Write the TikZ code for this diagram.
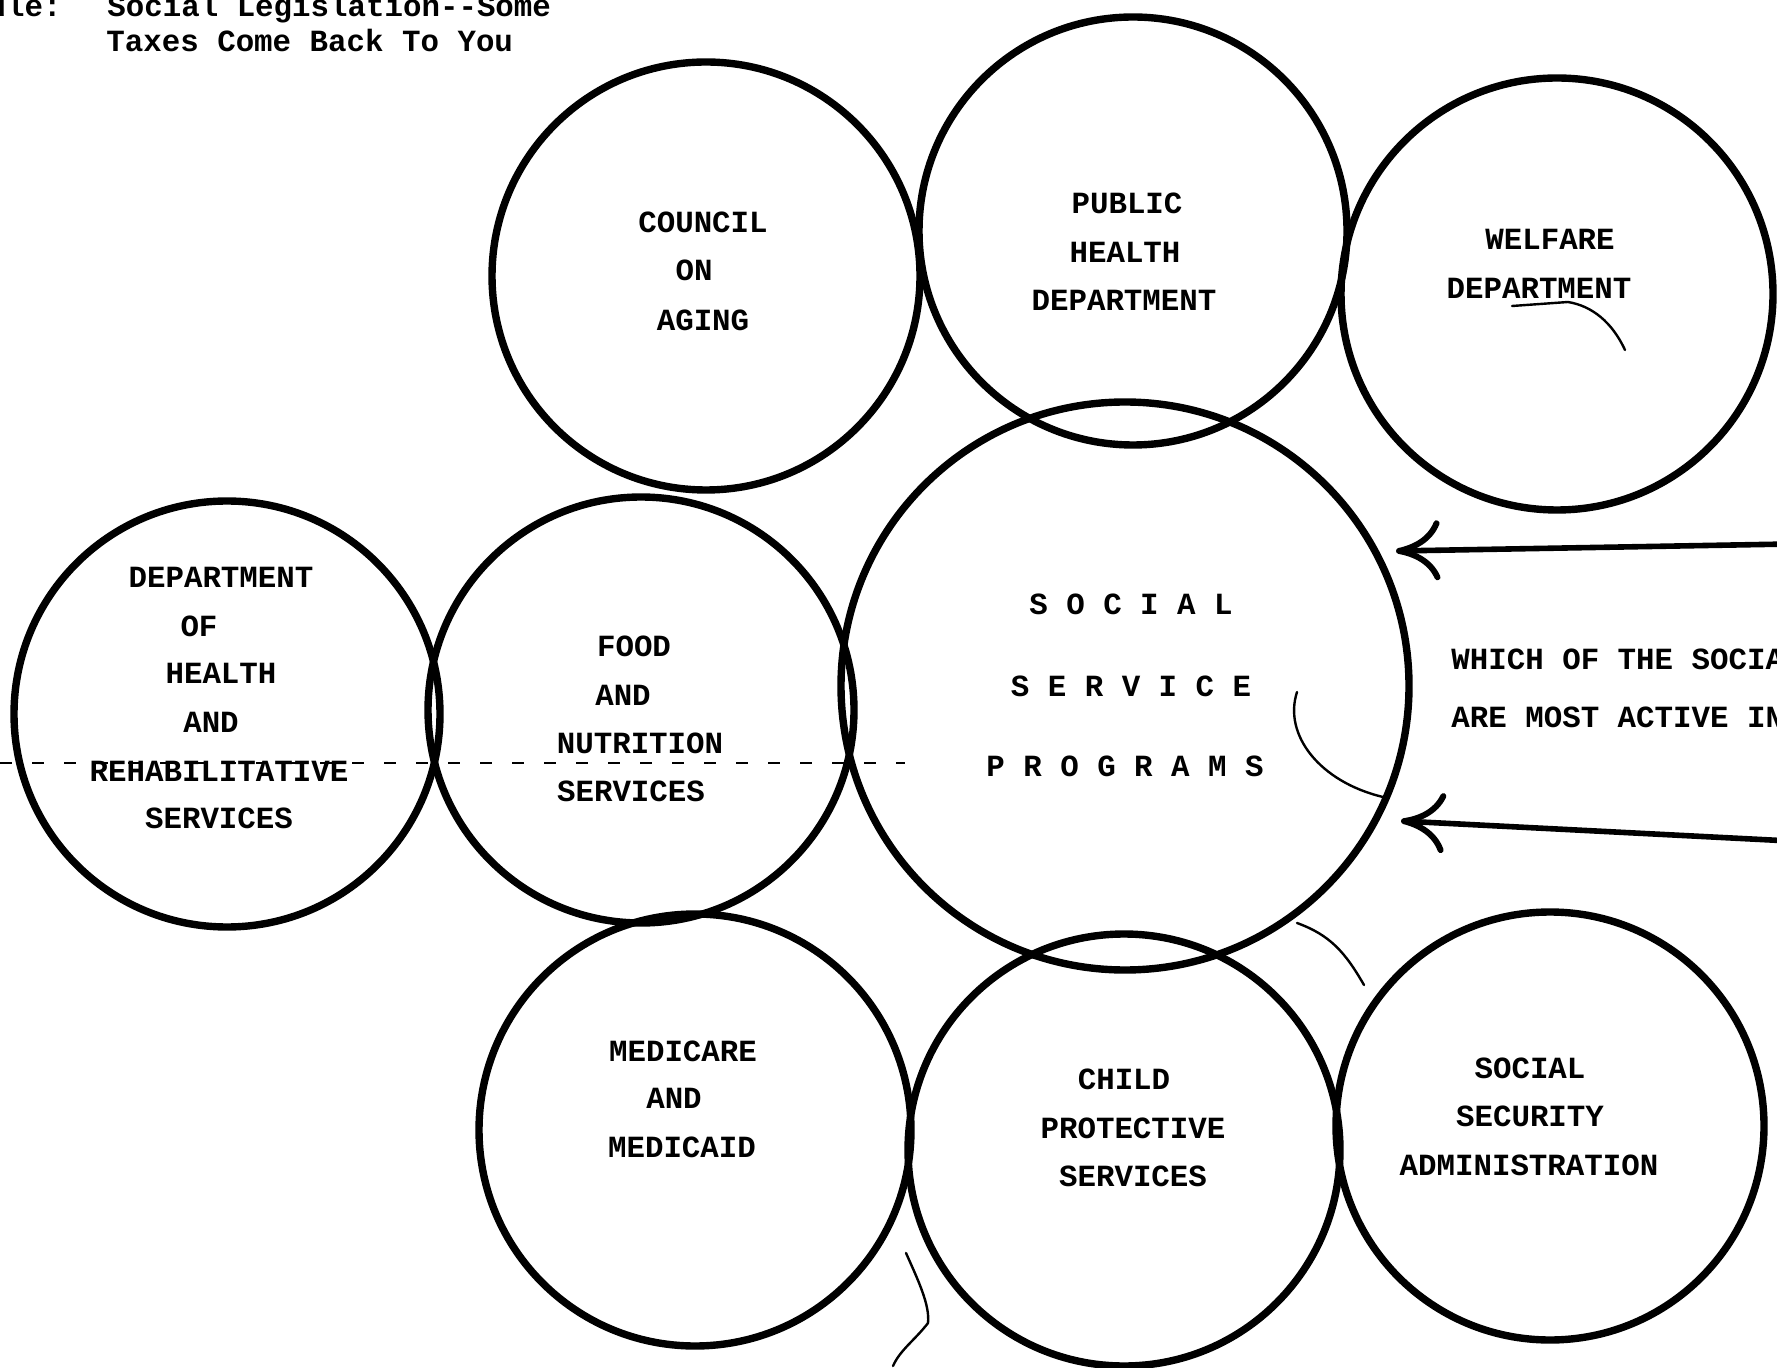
\documentclass[tikz,border=0pt]{standalone}
\usepackage{fontspec}
\setmonofont{Liberation Mono}
\usetikzlibrary{arrows.meta}
\begin{document}
\begin{tikzpicture}[x=0.5pt,y=-0.5pt,
  bub/.style={draw, circle, line width=3.7pt, inner sep=0pt},
  txt/.style={font=\ttfamily\bfseries\fontsize{15.4}{18}\selectfont, inner sep=0pt, anchor=center},
  arr/.style={line width=2.8pt, -{Computer Modern Rightarrow[length=22pt,width=30pt,line width=3pt]}},
  stray/.style={line width=1.2pt, line cap=round}]
\useasboundingbox (0,0) rectangle (1777,1368);
\fill[white] (0,0) rectangle (1777,1368);

% title
\node[txt, anchor=base east] (tul) at (62,17) {ule:};
\node[txt, anchor=base west] (t1) at (107,17) {Social Legislation--Some};
\node[txt, anchor=base west] (t2) at (106,52) {Taxes Come Back To You};

% dashed line
\draw[line width=0.6pt, dash pattern=on 6pt off 10pt] (0,763) -- (905,763);

% circles
\node[bub, minimum size=214pt] (council) at (706,276) {};
\node[bub, minimum size=214pt] (public) at (1133,231) {};
\node[bub, minimum size=216pt] (welfare) at (1557,294) {};
\node[bub, minimum size=213pt] (dhrs) at (227,714) {};
\node[bub, minimum size=213pt] (food) at (641,710) {};
\node[bub, minimum size=216pt] (medicare) at (695,1130) {};
\node[bub, minimum size=216pt] (child) at (1124,1150) {};
\node[bub, minimum size=214pt] (socsec) at (1550,1126) {};
\node[bub, minimum size=284pt] (social) at (1125,686) {};

% texts
\node[txt] (c1) at (703,222) {COUNCIL};
\node[txt] (c2) at (694,270) {ON};
\node[txt] (c3) at (703,320) {AGING};

\node[txt] (p1) at (1127,203) {PUBLIC};
\node[txt] (p2) at (1125,252) {HEALTH};
\node[txt] (p3) at (1124,300) {DEPARTMENT};

\node[txt] (w1) at (1550,239) {WELFARE};
\node[txt] (w2) at (1539,288) {DEPARTMENT};

\node[txt] (d1) at (221,577) {DEPARTMENT};
\node[txt] (d2) at (199,626) {OF};
\node[txt] (d3) at (221,673) {HEALTH};
\node[txt] (d4) at (211,722) {AND};
\node[txt] (d5) at (219,771) {REHABILITATIVE};
\node[txt] (d6) at (219,818) {SERVICES};

\node[txt] (f1) at (634,646) {FOOD};
\node[txt] (f2) at (623,695) {AND};
\node[txt] (f3) at (640,743) {NUTRITION};
\node[txt] (f4) at (631,791) {SERVICES};

\node[txt] (s1) at (1131,604) {S O C I A L};
\node[txt] (s2) at (1131,686) {S E R V I C E};
\node[txt] (s3) at (1125,766) {P R O G R A M S};

\node[txt] (m1) at (683,1051) {MEDICARE};
\node[txt] (m2) at (674,1098) {AND};
\node[txt] (m3) at (682,1147) {MEDICAID};

\node[txt] (k1) at (1124,1079) {CHILD};
\node[txt] (k2) at (1133,1128) {PROTECTIVE};
\node[txt] (k3) at (1133,1176) {SERVICES};

\node[txt] (a1) at (1530,1068) {SOCIAL};
\node[txt] (a2) at (1530,1116) {SECURITY};
\node[txt] (a3) at (1529,1165) {ADMINISTRATION};

% right text
\node[txt, anchor=base west] (q1) at (1451,670) {WHICH OF THE SOCIAL};
\node[txt, anchor=base west] (q2) at (1451,727) {ARE MOST ACTIVE IN};

% arrows
\coordinate (ar1s) at (1790,544);
\coordinate (ar1e) at (1396,551);
\coordinate (ar2s) at (1790,841);
\coordinate (ar2e) at (1401,821);
\draw[arr] (ar1s) -- (ar1e);
\draw[arr] (ar2s) -- (ar2e);

% stray pen marks
\draw[stray] (1297,692) .. controls (1283,735) and (1320,782) .. (1383,797);
\draw[stray] (1512,306) -- (1568,302) .. controls (1592,306) and (1612,322) .. (1625,350);
\draw[stray] (1297,923) .. controls (1330,935) and (1345,952) .. (1364,985);
\draw[stray] (906,1253) .. controls (918,1280) and (930,1305) .. (928,1323) .. controls (915,1340) and (900,1350) .. (893,1366);
\end{tikzpicture}
\end{document}
